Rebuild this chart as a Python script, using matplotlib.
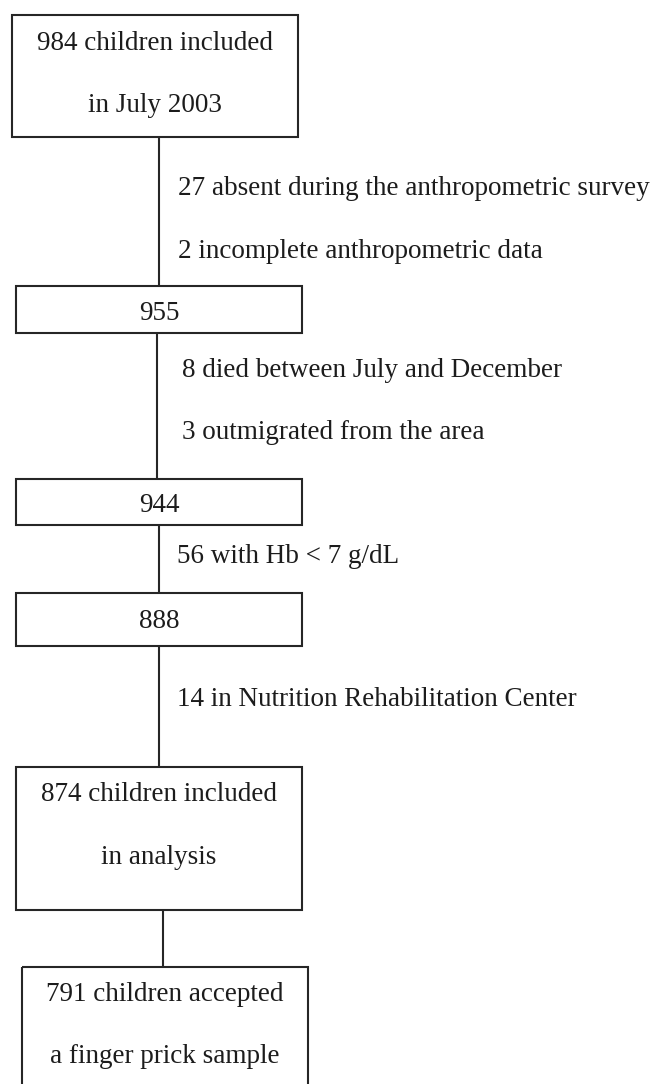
import matplotlib
matplotlib.use("Agg")
import matplotlib.pyplot as plt
from matplotlib.patches import Rectangle

# ---- content ----
box_lines = [
    ["984 children included", "in July 2003"],
    ["955"],
    ["944"],
    ["888"],
    ["874 children included", "in analysis"],
    ["791 children accepted", "a finger prick sample"],
]
exclusion_lines = [
    ["27 absent during the anthropometric survey", "2 incomplete anthropometric data"],
    ["8 died between July and December", "3 outmigrated from the area"],
    ["56 with Hb < 7 g/dL"],
    ["14 in Nutrition Rehabilitation Center"],
    [],
]

# ---- layout (pixel coordinates, y downward) ----
box_rects = [  # x0, x1, y0, y1
    (11.7, 298.3, 15.0, 137.0),
    (15.8, 302.0, 285.7, 333.3),
    (15.8, 302.0, 478.7, 525.0),
    (15.8, 302.0, 593.3, 645.7),
    (15.8, 302.0, 766.7, 910.0),
    (21.7, 308.3, 966.7, 1095.0),
]
box_text_baselines = [
    [50.0, 111.7],
    [320.0],
    [512.3],
    [628.3],
    [800.7, 864.0],
    [1000.7, 1062.7],
]
connector_x = [158.75, 157.0, 158.75, 158.75, 162.5]
excl_x = [178.3, 182.0, 177.0, 177.0, 177.0]
excl_baselines = [
    [195.0, 257.7],
    [376.7, 438.7],
    [562.7],
    [705.7],
    [],
]

W, H = 653, 1084
fig = plt.figure(figsize=(W / 100, H / 100), dpi=100)
ax = fig.add_axes([0, 0, 1, 1])
ax.set_xlim(0, W)
ax.set_ylim(H, 0)
ax.axis("off")

font = dict(family=["Liberation Serif", "DejaVu Serif"], fontsize=19.5, color="#1c1c1c")
edge = "#262626"
lw = 1.5

for (x0, x1, y0, y1), lines, bls in zip(box_rects, box_lines, box_text_baselines):
    ax.add_patch(Rectangle((x0, y0), x1 - x0, y1 - y0, fill=False,
                           edgecolor=edge, linewidth=lw))
    cx = (x0 + x1) / 2
    for t, b in zip(lines, bls):
        ax.text(cx, b, t, ha="center", va="baseline", **font)

for i, x in enumerate(connector_x):
    y_top = box_rects[i][3]
    y_bot = box_rects[i + 1][2]
    ax.plot([x, x], [y_top, y_bot], color=edge, linewidth=lw, solid_capstyle="butt")
    for t, b in zip(exclusion_lines[i], excl_baselines[i]):
        ax.text(excl_x[i], b, t, ha="left", va="baseline", **font)

fig.savefig("out.png", dpi=100)
